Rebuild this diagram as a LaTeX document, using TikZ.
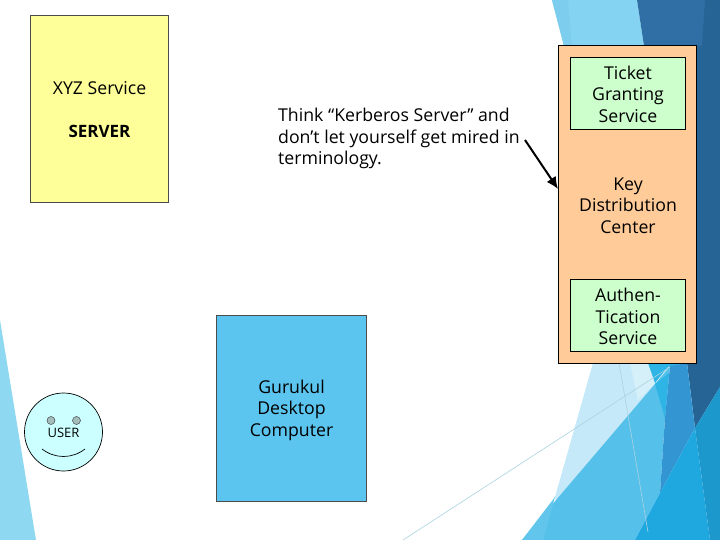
\documentclass[tikz,border=0pt]{standalone}
\usepackage{fontspec}
\setmainfont{Open Sans}
\usetikzlibrary{arrows.meta}
\definecolor{sliceA}{HTML}{8FD8F2}
\definecolor{paleA}{HTML}{C5E9F8}
\definecolor{paleB}{HTML}{D6F0FA}
\definecolor{midA}{HTML}{55C1EB}
\definecolor{midD}{HTML}{62C6EC}
\definecolor{midB}{HTML}{3396D3}
\definecolor{midC}{HTML}{2FB4E6}
\definecolor{darkA}{HTML}{2F6FA6}
\definecolor{darkB}{HTML}{266496}
\definecolor{brightA}{HTML}{1FA8DF}
\definecolor{brightB}{HTML}{1C98CC}
\definecolor{topA}{HTML}{85D3F3}
\definecolor{topB}{HTML}{7DCDEE}
\definecolor{hairline}{HTML}{A9D3E0}
\definecolor{fillYellow}{HTML}{FFFF99}
\definecolor{fillOrange}{HTML}{FFCC99}
\definecolor{fillGreen}{HTML}{CCFFCC}
\definecolor{fillFace}{HTML}{CCFFFF}
\definecolor{fillEye}{HTML}{A3BDBD}
\definecolor{fillBlue}{HTML}{5BC5F0}
\tikzset{
  lbl/.style={font=\fontsize{17.7}{21.6}\selectfont,align=center,text=black,inner sep=0pt},
  boxed/.style={draw=black,line width=0.9pt},
  soft/.style={draw=black!70,line width=0.8pt},
  hair/.style={draw=hairline,line width=0.6pt},
  eye/.style={circle,draw=black!70,line width=0.5pt,fill=fillEye,minimum size=8pt,inner sep=0pt},
}
\begin{document}
\begin{tikzpicture}[x=1pt,y=-1pt]
\useasboundingbox (0,0) rectangle (720,540);
% background
\fill[sliceA] (0,320) -- (36,540) -- (0,540) -- cycle;
\fill[topA] (552,0) -- (564,46) -- (644,46) -- (637,0) -- cycle;
\fill[topB] (552,0) -- (564,46) -- (572,46) -- (568,0) -- cycle;
\fill[darkA] (637,0) -- (720,0) -- (720,46) -- (644,46) -- cycle;
\fill[darkB] (705,0) -- (720,0) -- (720,46) -- (702,46) -- cycle;
\fill[darkB] (690,46) -- (720,46) -- (720,387) -- (695,428) -- (687,363) -- cycle;
\fill[paleA] (593,363) -- (555,497) -- (556,503) -- (657,384) -- (640,363) -- cycle;
\fill[paleB] (630,363) -- (638,400) -- (655,383) -- (650,363) -- cycle;
\fill[midC] (648,363) -- (655,383) -- (668,367) -- (687,363) -- cycle;
\fill[midA] (522,540) -- (655,384) -- (670,366) -- (665,418) -- (660,493) -- (635,540) -- cycle;
\fill[midD] (522,540) -- (555,497) -- (543,540) -- cycle;
\fill[midC] (655,384) -- (669,373) -- (665,418) -- cycle;
\fill[midB] (670,366) -- (687,363) -- (695,428) -- (660,493) -- (665,418) -- cycle;
\fill[brightA] (635,540) -- (660,493) -- (695,428) -- (710,540) -- cycle;
\fill[brightB] (695,428) -- (720,387) -- (720,540) -- (710,540) -- cycle;
\coordinate (la) at (403,540);
\coordinate (lb) at (670,367);
\coordinate (lc) at (619,363);
\coordinate (ld) at (648,532);
\draw[hair] (la) -- (lb);
\draw[hair] (lc) -- (ld);
% boxes
\node[soft,fill=fillYellow,minimum width=138pt,minimum height=187pt,anchor=north west,inner sep=0pt] (server) at (30,15) {};
\node[soft,fill=fillBlue,minimum width=150pt,minimum height=186pt,anchor=north west,inner sep=0pt] (gurukul) at (216,315) {};
\node[boxed,fill=fillOrange,minimum width=138pt,minimum height=318pt,anchor=north west,inner sep=0pt] (kdc) at (558,45) {};
\node[boxed,fill=fillGreen,minimum width=115pt,minimum height=72pt,anchor=north west,inner sep=0pt] (tgs) at (570,57) {};
\node[boxed,fill=fillGreen,minimum width=115pt,minimum height=72pt,anchor=north west,inner sep=0pt] (auth) at (570,279) {};
% texts
\node[lbl] (xyz) at (99.5,88) {XYZ Service};
\node[lbl,font=\fontsize{17}{21.6}\selectfont\bfseries] (srv) at (99.5,131) {SERVER};
\node[lbl,align=left,anchor=north west] (note) at (278,108) {Think “Kerberos Server” and\\don’t let yourself get mired in\\terminology.};
\node[lbl] (tgst) at (628,94) {Ticket\\Granting\\Service};
\node[lbl] (kdct) at (628,205.5) {Key\\Distribution\\Center};
\node[lbl] (autht) at (628,316.5) {Authen-\\Tication\\Service};
\node[lbl] (gurt) at (291.5,410) {Gurukul\\Desktop\\Computer};
% arrow
\coordinate (aa) at (525,140);
\coordinate (ab) at (558,189);
\draw[line width=2pt,-{Latex[length=12pt,width=11pt]}] (aa) -- (ab);
% face
\node[circle,draw=black,line width=0.7pt,fill=fillFace,minimum size=78pt,inner sep=0pt] (face) at (63.5,432) {};
\node[eye] (eyel) at (51,420.5) {};
\node[eye] (eyer) at (76.5,420.5) {};
\node[font=\fontsize{13}{15}\selectfont,inner sep=0pt] (user) at (63.5,433) {USER};
\coordinate (sa) at (42,449);
\coordinate (sb) at (85,449);
\draw[line width=0.7pt] (sa) .. controls (55,459) and (72,459) .. (sb);
\end{tikzpicture}
\end{document}
